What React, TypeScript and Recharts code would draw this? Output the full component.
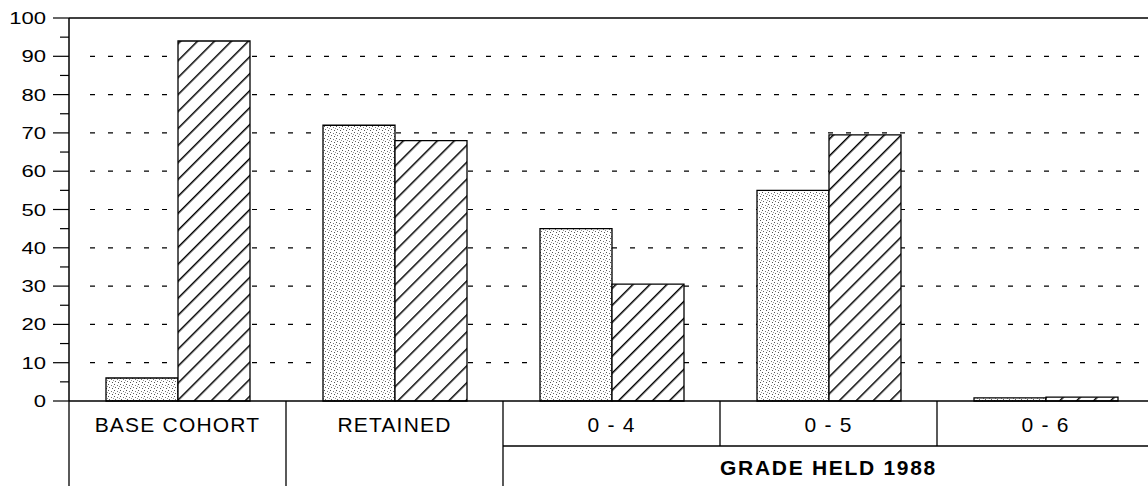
import React from 'react';
import { BarChart, Bar, XAxis, YAxis, CartesianGrid, ReferenceLine } from 'recharts';

// categories along the bottom, left to right
const CATEGORIES = ['BASE COHORT', 'RETAINED', '0 - 4', '0 - 5', '0 - 6'];
// the last three sit under one group heading
const GROUPED = ['0 - 4', '0 - 5', '0 - 6'];
const GROUP_LABEL = 'GRADE HELD 1988';

// values
const STIPPLED_VALUES = [6, 72, 45, 55, 0.8];
const HATCHED_VALUES = [94, 68, 30.5, 69.5, 1];

// y axis
const Y_TICKS = [0, 5, 10, 15, 20, 25, 30, 35, 40, 45, 50, 55, 60, 65, 70, 75, 80, 85, 90, 95, 100];
const Y_LABELS = [0, 10, 20, 30, 40, 50, 60, 70, 80, 90, 100];
const GRID_VALUES = [10, 20, 30, 40, 50, 60, 70, 80, 90];

const data = CATEGORIES.map((name, i) => ({
	name,
	stippled: STIPPLED_VALUES[i],
	hatched: HATCHED_VALUES[i],
}));

const CHART_W = 1160;
const CHART_H = 486;
const AXIS_W = 69;
const RIGHT = 6;
const BAND = (CHART_W - AXIS_W - RIGHT) / CATEGORIES.length;
const TABLE_H = 85;
const ROW_H = 45;
const FONT = '"Liberation Sans", Arial, Helvetica, sans-serif';

const YTick = (props: any) => {
	const { x, y, payload } = props;
	const v = payload.value;
	const major = Y_LABELS.includes(v);
	return (
		<g>
			<line x1={x - (major ? 16 : 9)} y1={y} x2={x} y2={y} stroke='#000' strokeWidth={1.2} />
			{major && (
				<text
					x={0}
					y={0}
					transform={`translate(${x - 23},${y + 6}) scale(1.3,1)`}
					textAnchor='end'
					fontSize={17}
					fontFamily={FONT}
					fill='#000'
				>
					{v}
				</text>
			)}
		</g>
	);
};

const XTick = (props: any) => {
	const { x, y, payload } = props;
	const name: string = payload.value;
	const inGroup = GROUPED.includes(name);
	const first = GROUPED[0] === name;
	const middle = GROUPED[Math.floor(GROUPED.length / 2)] === name;
	const left = x - BAND / 2;
	const right = x + BAND / 2;
	return (
		<g>
			<line
				x1={left}
				y1={y}
				x2={left}
				y2={inGroup && !first ? y + ROW_H : y + TABLE_H}
				stroke='#000'
				strokeWidth={1.3}
			/>
			{inGroup && (
				<line x1={left} y1={y + ROW_H} x2={right} y2={y + ROW_H} stroke='#000' strokeWidth={1.3} />
			)}
			<text
				x={x}
				y={y + 31}
				textAnchor='middle'
				fontSize={21}
				letterSpacing={1.2}
				fontFamily={FONT}
				fill='#000'
			>
				{name}
			</text>
			{middle && (
				<text
					x={x}
					y={y + 74}
					textAnchor='middle'
					fontSize={21}
					fontWeight='bold'
					letterSpacing={1.7}
					fontFamily={FONT}
					fill='#000'
				>
					{GROUP_LABEL}
				</text>
			)}
		</g>
	);
};

const gridLine = (p: any) => (
	<line
		key={p.key ?? `g-${p.y1}`}
		x1={p.x1 + 21}
		y1={p.y1}
		x2={p.x2}
		y2={p.y2}
		stroke='#000'
		strokeWidth={1.2}
		strokeDasharray='5 13'
	/>
);

export default function App() {
	return (
		<div
			style={{
				position: 'absolute',
				left: 0,
				top: 0,
				width: 1148,
				height: 486,
				overflow: 'hidden',
				background: '#fff',
			}}
		>
			<BarChart
				width={CHART_W}
				height={CHART_H}
				data={data}
				margin={{ top: 18, right: RIGHT, left: 0, bottom: 0 }}
				barGap={0}
				barSize={72}
			>
				<defs>
					<pattern id='stipple' width='6' height='6' patternUnits='userSpaceOnUse'>
						<rect width='6' height='6' fill='#fff' />
						<rect x='0' y='0' width='1' height='1' fill='#555' />
						<rect x='3' y='1' width='1' height='1' fill='#777' />
						<rect x='1' y='3' width='1' height='1' fill='#666' />
						<rect x='4' y='4' width='1' height='1' fill='#555' />
						<rect x='5' y='2' width='1' height='1' fill='#999' />
					</pattern>
					<pattern
						id='hatch'
						width='12'
						height='12'
						patternUnits='userSpaceOnUse'
						patternTransform='rotate(45)'
					>
						<rect width='12' height='12' fill='#fff' />
						<line x1='0' y1='0' x2='0' y2='12' stroke='#000' strokeWidth='3' />
					</pattern>
				</defs>
				<CartesianGrid vertical={false} horizontalValues={GRID_VALUES} horizontal={gridLine} />
				<XAxis
					dataKey='name'
					height={TABLE_H}
					interval={0}
					tickLine={false}
					tickSize={0}
					tickMargin={0}
					axisLine={{ stroke: '#000', strokeWidth: 1.5 }}
					tick={<XTick />}
				/>
				<YAxis
					width={AXIS_W}
					domain={[0, 100]}
					ticks={Y_TICKS}
					interval={0}
					tickLine={false}
					tickSize={0}
					tickMargin={0}
					axisLine={{ stroke: '#000', strokeWidth: 1.5 }}
					tick={<YTick />}
				/>
				<ReferenceLine y={100} stroke='#000' strokeWidth={1.5} />
				<Bar
					dataKey='stippled'
					fill='url(#stipple)'
					stroke='#000'
					strokeWidth={1.3}
					isAnimationActive={false}
				/>
				<Bar
					dataKey='hatched'
					fill='url(#hatch)'
					stroke='#000'
					strokeWidth={1.3}
					isAnimationActive={false}
				/>
			</BarChart>
		</div>
	);
}
